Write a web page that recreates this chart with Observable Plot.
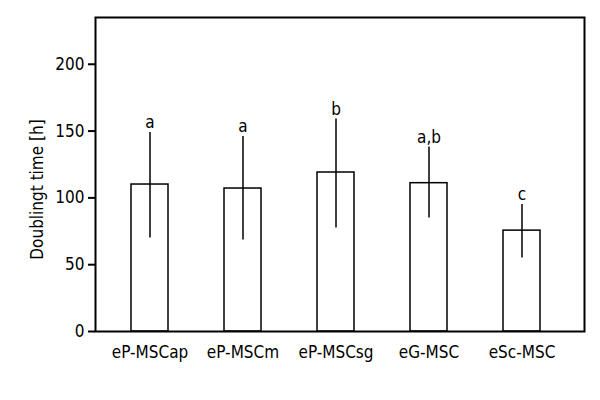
<!DOCTYPE html>
<html>
<head>
<meta charset="utf-8">
<script src="https://cdn.jsdelivr.net/npm/d3@7"></script>
<script src="https://cdn.jsdelivr.net/npm/@observablehq/plot@0.6"></script>
<style>
  html, body { margin: 0; padding: 0; background: #fff; }
</style>
</head>
<body>
<div id="chart"></div>
<script>
const categories = ["eP-MSCap", "eP-MSCm", "eP-MSCsg", "eG-MSC", "eSc-MSC"];
const means = [110, 107, 119, 111, 75.5];
const errLow = [70, 68.5, 77.5, 85, 55];
const errHigh = [149, 146, 159, 138, 95];
const letters = ["a", "a", "b", "a,b", "c"];
const yTicks = [0, 50, 100, 150, 200];
const yLabel = "Doublingt time [h]";

const data = categories.map((c, i) => ({
  cat: c, mean: means[i], lo: errLow[i], hi: errHigh[i], letter: letters[i]
}));

const font = "'DejaVu Sans Condensed', 'DejaVu Sans', Tahoma, sans-serif";

const chart = Plot.plot({
  width: 600,
  height: 400,
  marginLeft: 95,
  marginRight: 16,
  marginTop: 17,
  marginBottom: 69,
  style: { fontFamily: font, fontSize: "17px", color: "#000", background: "#fff" },
  x: { domain: categories, paddingInner: 0.6, paddingOuter: 0.42, align: 0.45 },
  y: { domain: [0, 235] },
  marks: [
    Plot.barY(data, { x: "cat", y: "mean", fill: "white", stroke: "black", strokeWidth: 1.5 }),
    Plot.ruleX(data, { x: "cat", y1: "lo", y2: "hi", stroke: "black", strokeWidth: 1.5 }),
    Plot.text(data, { x: "cat", y: "hi", text: "letter", dy: -10, fontSize: 17, fill: "black" }),
    Plot.frame({ stroke: "black", strokeWidth: 2 }),
    Plot.axisY({ ticks: yTicks, tickSize: 7, tickPadding: 4, strokeWidth: 2, label: null, fontSize: 17 }),
    Plot.text([yLabel], { text: d => d, frameAnchor: "left", textAnchor: "middle", lineAnchor: "middle", rotate: -90, dx: -58, dy: 15, fontSize: 17, fill: "black" }),
    Plot.axisX({ tickSize: 0, tickPadding: 14, label: null, fontSize: 17 })
  ]
});

document.getElementById("chart").appendChild(chart);
</script>
</body>
</html>
